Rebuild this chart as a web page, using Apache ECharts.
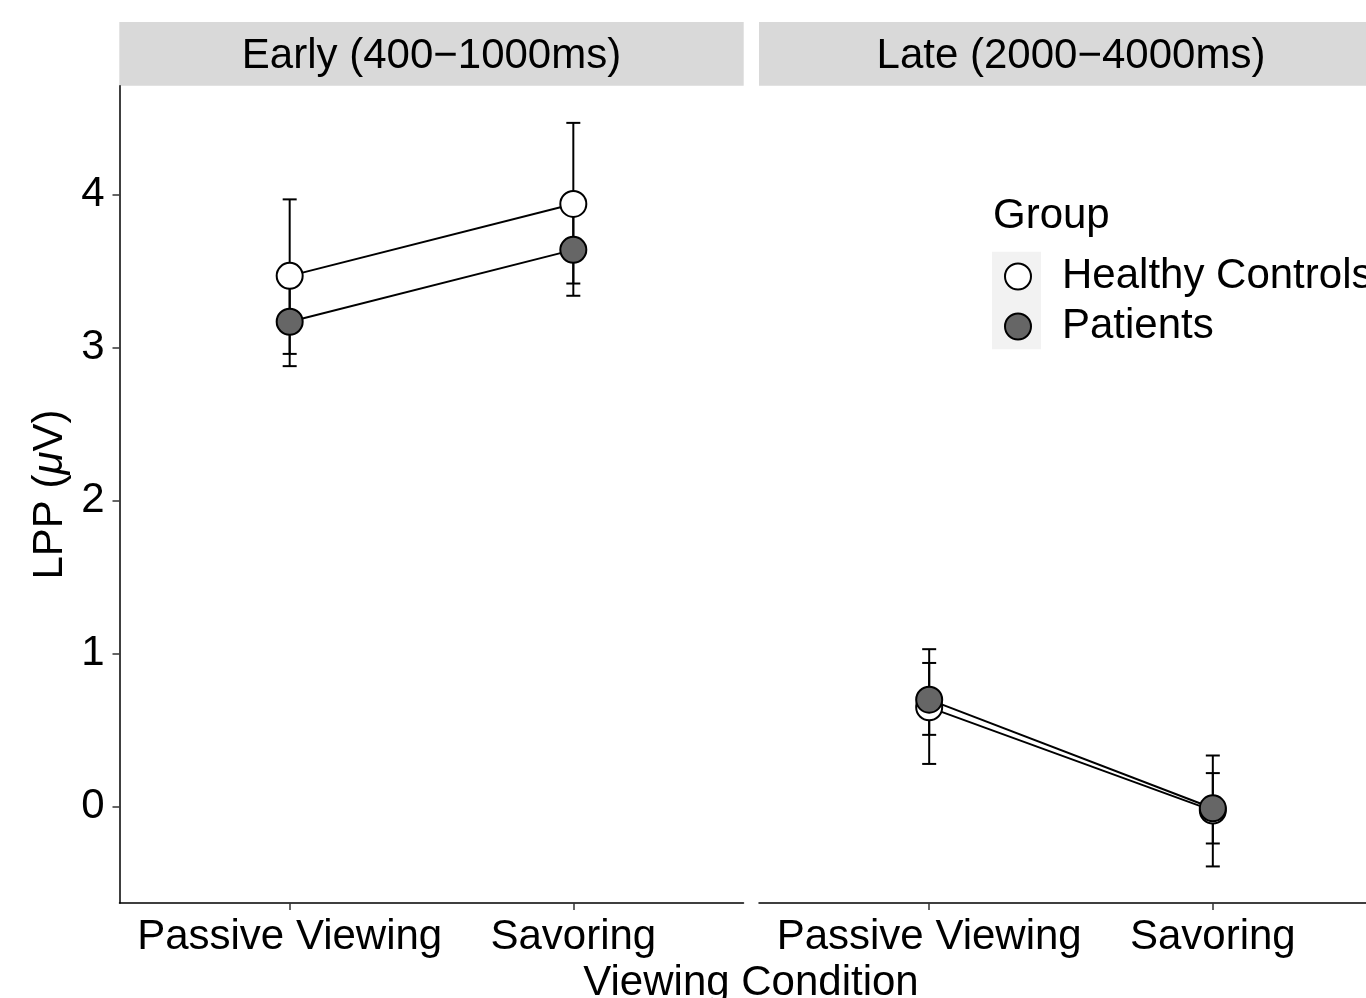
<!DOCTYPE html>
<html>
<head>
<meta charset="utf-8">
<script src="https://cdn.jsdelivr.net/npm/echarts@6/dist/echarts.min.js"></script>
<style>
html,body{margin:0;padding:0;background:#fff;}
#chart{width:1366px;height:998px;}
</style>
</head>
<body>
<div id="chart"></div>
<script>
// ---- data ----
const conditions = ['Passive Viewing', 'Savoring'];
const windows = ['Early (400\u22121000ms)', 'Late (2000\u22124000ms)'];
const groups = ['Healthy Controls', 'Patients'];
const yTicks = [0, 1, 2, 3, 4];

const hcEarlyMean = [3.47, 3.94];
const hcEarlyLow  = [2.96, 3.42];
const hcEarlyHigh = [3.97, 4.47];
const ptEarlyMean = [3.17, 3.64];
const ptEarlyLow  = [2.88, 3.34];
const ptEarlyHigh = [3.46, 3.93];

const hcLateMean = [0.65, -0.025];
const hcLateLow  = [0.28, -0.39];
const hcLateHigh = [1.03, 0.335];
const ptLateMean = [0.70, -0.01];
const ptLateLow  = [0.47, -0.24];
const ptLateHigh = [0.94, 0.22];

// ---- styling ----
const FONT = "'Liberation Sans', Arial, Helvetica, sans-serif";
const FS = 42;
const groupFill = {'Healthy Controls': '#ffffff', 'Patients': '#666666'};

const chart = echarts.init(document.getElementById('chart'), null, {renderer: 'canvas'});

function pts(means) { return means.map((m, i) => [i + 1, m]); }
function bars(low, high) { return low.map((l, i) => [i + 1, l, high[i]]); }

function errorSeries(name, idx, low, high) {
  return {
    type: 'custom', name: name, xAxisIndex: idx, yAxisIndex: idx, z: 2,
    silent: true,
    data: bars(low, high),
    renderItem: function (params, api) {
      const x = api.value(0), lo = api.value(1), hi = api.value(2);
      const a = api.coord([x, lo]), b = api.coord([x, hi]);
      const st = {stroke: '#000', lineWidth: 2};
      const hw = 7;
      return {type: 'group', children: [
        {type: 'line', shape: {x1: a[0], y1: a[1], x2: b[0], y2: b[1]}, style: st},
        {type: 'line', shape: {x1: a[0] - hw, y1: a[1], x2: a[0] + hw, y2: a[1]}, style: st},
        {type: 'line', shape: {x1: b[0] - hw, y1: b[1], x2: b[0] + hw, y2: b[1]}, style: st}
      ]};
    }
  };
}
function lineSeries(name, idx, means) {
  return {
    type: 'line', name: name, xAxisIndex: idx, yAxisIndex: idx, z: 3,
    data: pts(means), symbol: 'none', silent: true,
    lineStyle: {color: '#000', width: 2}
  };
}
function pointSeries(group, idx, means) {
  return {
    type: 'scatter', name: group, xAxisIndex: idx, yAxisIndex: idx, z: 4,
    data: pts(means), symbol: 'circle', symbolSize: 26,
    itemStyle: {color: groupFill[group], borderColor: '#000', borderWidth: 2, opacity: 1}
  };
}

const yMin = -0.629, yMax = 4.713;
const gridTop = 85.7, gridH = 817.3;
// right panel extends beyond the page edge: keep the same scale but cut at the edge
const leftW = 624, rightW = 607;
const xMin = 0.4, xMaxLeft = 2.6, xMaxRight = 0.4 + 2.2 * rightW / leftW;

function xAxisDef(idx, xMax) {
  return {
    type: 'value', gridIndex: idx, min: xMin, max: xMax,
    splitLine: {show: false},
    axisLine: {show: true, onZero: false, lineStyle: {color: '#000', width: 1.5}},
    axisTick: {show: true, customValues: [1, 2], length: 7, lineStyle: {color: '#333', width: 1.5}},
    axisLabel: {customValues: [1, 2], formatter: v => conditions[Math.round(v) - 1],
      fontSize: FS, fontFamily: FONT, color: '#000', margin: 13}
  };
}

const option = {
  animation: false,
  backgroundColor: '#fff',
  grid: [
    {left: 119.5, top: gridTop, width: leftW, height: gridH},
    {left: 759, top: gridTop, width: rightW, height: gridH}
  ],
  xAxis: [xAxisDef(0, xMaxLeft), xAxisDef(1, xMaxRight)],
  yAxis: [
    {type: 'value', gridIndex: 0, min: yMin, max: yMax,
     splitLine: {show: false},
     axisLine: {show: true, onZero: false, lineStyle: {color: '#000', width: 1.5}},
     axisTick: {show: true, customValues: yTicks, length: 7, lineStyle: {color: '#333', width: 1.5}},
     axisLabel: {customValues: yTicks, fontSize: FS, fontFamily: FONT, color: '#000', margin: 15}},
    {type: 'value', gridIndex: 1, min: yMin, max: yMax, show: false, splitLine: {show: false}}
  ],
  legend: {
    data: groups, orient: 'vertical', left: 1004, top: 251.5, padding: 0,
    itemWidth: 26, itemHeight: 26, itemGap: 0, icon: 'circle', selectedMode: false,
    textStyle: {fontSize: FS, fontFamily: FONT, color: '#000', lineHeight: 50, padding: [0, 0, 0, 26]}
  },
  graphic: [
    {type: 'rect', shape: {x: 119.3, y: 22, width: 624.4, height: 63.7}, style: {fill: '#d9d9d9'}, z: 0},
    {type: 'rect', shape: {x: 759, y: 22, width: 624, height: 63.7}, style: {fill: '#d9d9d9'}, z: 0},
    {type: 'text', x: 431.5, y: 56.5, style: {text: windows[0], font: FS + 'px ' + FONT, fill: '#000', textAlign: 'center', textVerticalAlign: 'middle'}, z: 1},
    {type: 'text', x: 1071, y: 56.5, style: {text: windows[1], font: FS + 'px ' + FONT, fill: '#000', textAlign: 'center', textVerticalAlign: 'middle'}, z: 1},
    {type: 'rect', shape: {x: 992, y: 251.7, width: 49, height: 97.6}, style: {fill: '#f2f2f2'}, z: 0},
    {type: 'text', x: 993, y: 216, style: {text: 'Group', font: FS + 'px ' + FONT, fill: '#000', textAlign: 'left', textVerticalAlign: 'middle'}, z: 1},
    {type: 'text', x: 751, y: 983, style: {text: 'Viewing Condition', font: FS + 'px ' + FONT, fill: '#000', textAlign: 'center', textVerticalAlign: 'middle'}, z: 1},
    {type: 'text', x: 50, y: 494.5, rotation: Math.PI / 2,
     style: {text: 'LPP ({i|\u03bc}V)', font: FS + 'px ' + FONT, fill: '#000', textAlign: 'center', textVerticalAlign: 'middle',
       rich: {i: {fontStyle: 'italic', fontSize: FS, fontFamily: FONT, fill: '#000'}}}, z: 1}
  ],
  series: [
    errorSeries('HC err early', 0, hcEarlyLow, hcEarlyHigh),
    errorSeries('PT err early', 0, ptEarlyLow, ptEarlyHigh),
    errorSeries('HC err late', 1, hcLateLow, hcLateHigh),
    errorSeries('PT err late', 1, ptLateLow, ptLateHigh),
    lineSeries('HC line early', 0, hcEarlyMean),
    lineSeries('PT line early', 0, ptEarlyMean),
    lineSeries('HC line late', 1, hcLateMean),
    lineSeries('PT line late', 1, ptLateMean),
    pointSeries('Healthy Controls', 0, hcEarlyMean),
    pointSeries('Patients', 0, ptEarlyMean),
    pointSeries('Healthy Controls', 1, hcLateMean),
    pointSeries('Patients', 1, ptLateMean)
  ]
};
chart.setOption(option);
</script>
</body>
</html>
